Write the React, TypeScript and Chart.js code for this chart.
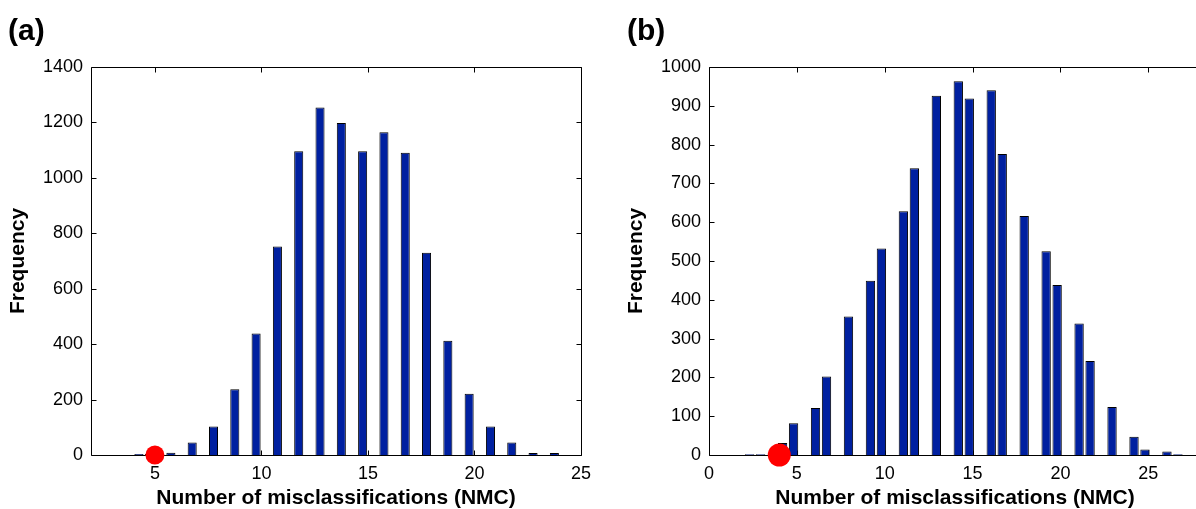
import React, { useEffect, useRef } from "react";
import { Chart, registerables } from "chart.js";

Chart.register(...registerables);

// ---------- Panel (a) ----------
const binCentersA = [4.25, 4.75, 5.75, 6.75, 7.75, 8.75, 9.75, 10.75, 11.75, 12.75, 13.75, 14.75, 15.75, 16.75, 17.75, 18.75, 19.75, 20.75, 21.75, 22.75, 23.75];
const frequencyA = [4, 4, 8, 45, 103, 237, 438, 752, 1096, 1254, 1198, 1096, 1165, 1091, 730, 412, 221, 103, 45, 7, 7];
const observedA = [5];
const xTicksA = [5, 10, 15, 20, 25];
const yTicksA = [0, 200, 400, 600, 800, 1000, 1200, 1400];

// ---------- Panel (b) ----------
const binCentersB = [2.3125, 2.9375, 4.1875, 4.8125, 6.0625, 6.6875, 7.9375, 9.1875, 9.8125, 11.0625, 11.6875, 12.9375, 14.1875, 14.8125, 16.0625, 16.6875, 17.9375, 19.1875, 19.8125, 21.0625, 21.6875, 22.9375, 24.1875, 24.8125, 26.0625, 26.6875];
const frequencyB = [2, 2, 31, 82, 121, 202, 357, 449, 532, 628, 739, 926, 963, 919, 940, 776, 616, 525, 438, 339, 242, 124, 47, 14, 9, 2];
const observedB = [4];
const xTicksB = [0, 5, 10, 15, 20, 25];
const yTicksB = [0, 100, 200, 300, 400, 500, 600, 700, 800, 900, 1000];

const X_TITLE = "Number of misclassifications (NMC)";
const Y_TITLE = "Frequency";
const FONT = "'Liberation Sans', Arial, Helvetica, sans-serif";
const BAR_FILL = "rgb(0, 32, 160)";

type PanelProps = {
  centers: number[];
  freq: number[];
  marker: number[];
  markerRadius: number;
  xTicks: number[];
  yTicks: number[];
  xMin: number;
  xMax: number;
  yMax: number;
  width: number;
  height: number;
};

const framePlugin = {
  id: "frame",
  beforeDatasetsDraw(chart: any) {
    const { ctx, chartArea, scales } = chart;
    const { left, right, top, bottom } = chartArea;
    const a = (v: number) => Math.round(v) + 0.5;
    const L = a(left), R = a(right), T = a(top), B = a(bottom);
    const tick = 5;
    ctx.save();
    ctx.strokeStyle = "#000";
    ctx.lineWidth = 1;
    ctx.beginPath();
    ctx.rect(L, T, R - L, B - T);
    scales.x.ticks.forEach((t: any) => {
      const px = a(scales.x.getPixelForValue(t.value));
      ctx.moveTo(px, B);
      ctx.lineTo(px, B - tick);
      ctx.moveTo(px, T);
      ctx.lineTo(px, T + tick);
    });
    scales.y.ticks.forEach((t: any) => {
      const py = a(scales.y.getPixelForValue(t.value));
      ctx.moveTo(L, py);
      ctx.lineTo(L + tick, py);
      ctx.moveTo(R, py);
      ctx.lineTo(R - tick, py);
    });
    ctx.stroke();
    ctx.restore();
  },
};

function Panel(p: PanelProps) {
  const ref = useRef<HTMLCanvasElement | null>(null);
  useEffect(() => {
    if (!ref.current) return;
    const chart = new Chart(ref.current, {
      type: "bar",
      data: {
        datasets: [
          {
            type: "scatter",
            data: p.marker.map((x) => ({ x, y: 0 })),
            pointRadius: p.markerRadius,
            pointHoverRadius: p.markerRadius,
            backgroundColor: "#ff0000",
            borderColor: "#ff0000",
            pointBorderWidth: 0,
            borderWidth: 0,
            clip: false,
          } as any,
          {
            type: "bar",
            data: p.centers.map((x, i) => ({ x, y: p.freq[i] })),
            backgroundColor: BAR_FILL,
            borderColor: "#000",
            borderWidth: 1,
            barPercentage: 0.85,
            categoryPercentage: 1,
          } as any,
        ],
      },
      options: {
        animation: false,
        responsive: false,
        devicePixelRatio: 1,
        events: [],
        layout: { padding: { top: 67, right: 19, bottom: 0, left: 0 } },
        plugins: {
          legend: { display: false },
          tooltip: { enabled: false },
          title: { display: false },
        },
        scales: {
          x: {
            type: "linear",
            min: p.xMin,
            max: p.xMax,
            offset: false,
            grid: { display: false, drawTicks: false },
            border: { display: false },
            afterBuildTicks: (s: any) => {
              s.ticks = p.xTicks.map((v) => ({ value: v }));
            },
            afterFit: (s: any) => {
              s.height = 54;
            },
            ticks: {
              font: { family: FONT, size: 18 },
              color: "#000",
              padding: 8,
              maxRotation: 0,
              autoSkip: false,
              callback: (v: any) => String(v),
            },
            title: {
              display: true,
              text: X_TITLE,
              color: "#000",
              font: { family: FONT, size: 21, weight: "bold" },
              padding: { top: 0, bottom: -2 },
            },
          },
          y: {
            type: "linear",
            min: 0,
            max: p.yMax,
            grid: { display: false, drawTicks: false },
            border: { display: false },
            afterBuildTicks: (s: any) => {
              s.ticks = p.yTicks.map((v) => ({ value: v }));
            },
            afterFit: (s: any) => {
              s.width = 91;
            },
            ticks: {
              font: { family: FONT, size: 18 },
              color: "#000",
              padding: 8,
              autoSkip: false,
              callback: (v: any) => String(v),
            },
            title: {
              display: true,
              text: Y_TITLE,
              color: "#000",
              font: { family: FONT, size: 21, weight: "bold" },
              padding: { top: 6, bottom: 0 },
            },
          },
        },
      } as any,
      plugins: [framePlugin],
    });
    return () => chart.destroy();
  }, []);
  return <canvas ref={ref} width={p.width} height={p.height} style={{ display: "block" }} />;
}

const labelStyle: React.CSSProperties = {
  position: "absolute",
  top: 12,
  fontFamily: FONT,
  fontWeight: "bold",
  fontSize: 30,
  lineHeight: "36px",
  color: "#000",
};

export default function App() {
  return (
    <div
      style={{
        position: "fixed",
        left: 0,
        top: 0,
        width: 1196,
        height: 509,
        overflow: "hidden",
        background: "#fff",
      }}
    >
      <div style={{ position: "absolute", left: 0, top: 0 }}>
        <Panel
          centers={binCentersA}
          freq={frequencyA}
          marker={observedA}
          markerRadius={9.5}
          xTicks={xTicksA}
          yTicks={yTicksA}
          xMin={2}
          xMax={25}
          yMax={1400}
          width={600}
          height={509}
        />
      </div>
      <div style={{ position: "absolute", left: 618, top: 0 }}>
        <Panel
          centers={binCentersB}
          freq={frequencyB}
          marker={observedB}
          markerRadius={11.5}
          xTicks={xTicksB}
          yTicks={yTicksB}
          xMin={0}
          xMax={28}
          yMax={1000}
          width={602}
          height={509}
        />
      </div>
      <div style={{ ...labelStyle, left: 8 }}>(a)</div>
      <div style={{ ...labelStyle, left: 627 }}>(b)</div>
    </div>
  );
}
